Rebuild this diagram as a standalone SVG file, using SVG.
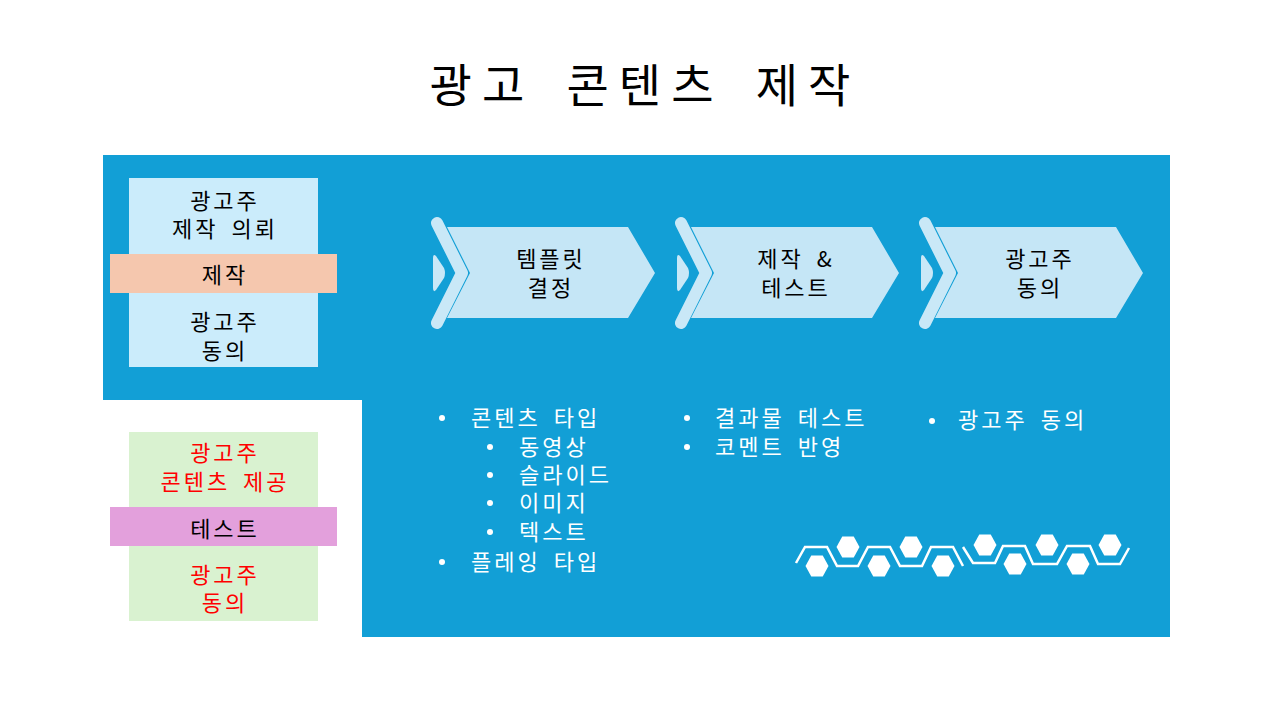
<svg xmlns="http://www.w3.org/2000/svg" xmlns:xlink="http://www.w3.org/1999/xlink" width="1280" height="720" viewBox="0 0 1280 720">
<style>
  text { font-family: "Noto Sans CJK KR", "Noto Sans", sans-serif; }
  .t { font-size: 22px; letter-spacing: 3px; word-spacing: 5px; }
  .c { text-anchor: middle; }
  .k { fill: #000000; }
  .r { fill: #ff0000; }
  .w { fill: #ffffff; }
  .body { fill: #c5e6f6; }
  .strk { fill: none; stroke: #c9e8f7; stroke-width: 12; stroke-linecap: round; stroke-linejoin: round; }
  .hexline { fill: none; stroke: #ffffff; stroke-width: 2.5; }
</style>
<defs>
  <g id="chev">
    <polygon class="body" points="447,227 628,227 655,273 628,318 447,318 470,273"/>
    <polyline class="strk" points="437,223 462,273 437,323"/>
    <path d="M433,258 Q433,253 436,256 L444,268 Q446,273 444,278 L436,290 Q433,293 433,288 Z" fill="#c9e8f7"/>
  </g>
  <polygon id="hex" points="-11.5,0 -5.75,-10.5 5.75,-10.5 11.5,0 5.75,10.5 -5.75,10.5" fill="#ffffff"/>
</defs>
<rect width="1280" height="720" fill="#ffffff"/>

<text x="645" y="102" style="font-size:46px; letter-spacing:10px; word-spacing:12px;" class="c k">광고 콘텐츠 제작</text>

<polygon points="103,155 1170,155 1170,637 362,637 362,400 103,400" fill="#129fd6"/>

<g id="node-request">
  <rect x="129" y="178" width="189" height="189" fill="#cbecfb"/>
  <rect x="110" y="254" width="227" height="39" fill="#f5c7ae"/>
  <text class="t c k" x="225" y="209">광고주</text>
  <text class="t c k" x="225" y="237">제작 의뢰</text>
  <text class="t c k" x="225" y="283">제작</text>
  <text class="t c k" x="225" y="330">광고주</text>
  <text class="t c k" x="225" y="359">동의</text>
</g>

<g id="node-test">
  <rect x="129" y="432" width="189" height="189" fill="#d9f2d0"/>
  <rect x="110" y="507" width="227" height="39" fill="#e3a0dc"/>
  <text class="t c r" x="225" y="461">광고주</text>
  <text class="t c r" x="225" y="490">콘텐츠 제공</text>
  <text class="t c k" x="225" y="537">테스트</text>
  <text class="t c r" x="225" y="583">광고주</text>
  <text class="t c r" x="225" y="611">동의</text>
</g>

<g id="node-template">
  <use xlink:href="#chev" href="#chev"/>
  <text class="t c k" x="551" y="267">템플릿</text>
  <text class="t c k" x="551" y="296">결정</text>
</g>
<g id="node-production">
  <use xlink:href="#chev" href="#chev" transform="translate(244,0)"/>
  <text class="t c k" x="796" y="267">제작 &amp;</text>
  <text class="t c k" x="796" y="296">테스트</text>
</g>
<g id="node-approval">
  <use xlink:href="#chev" href="#chev" transform="translate(488,0)"/>
  <text class="t c k" x="1040" y="267">광고주</text>
  <text class="t c k" x="1040" y="296">동의</text>
</g>

<g id="connectors"></g>

<g id="list-template">
  <circle cx="442" cy="418" r="3" fill="#ffffff"/>
  <text class="t w" x="471" y="426">콘텐츠 타입</text>
  <circle cx="490" cy="447" r="3" fill="#ffffff"/>
  <text class="t w" x="519" y="455">동영상</text>
  <circle cx="490" cy="475" r="3" fill="#ffffff"/>
  <text class="t w" x="519" y="483">슬라이드</text>
  <circle cx="490" cy="503" r="3" fill="#ffffff"/>
  <text class="t w" x="519" y="511">이미지</text>
  <circle cx="490" cy="532" r="3" fill="#ffffff"/>
  <text class="t w" x="519" y="540">텍스트</text>
  <circle cx="442" cy="562" r="3" fill="#ffffff"/>
  <text class="t w" x="471" y="570">플레잉 타입</text>
</g>
<g id="list-production">
  <circle cx="687" cy="418" r="3" fill="#ffffff"/>
  <text class="t w" x="715" y="426">결과물 테스트</text>
  <circle cx="687" cy="447" r="3" fill="#ffffff"/>
  <text class="t w" x="715" y="455">코멘트 반영</text>
</g>
<g id="list-approval">
  <circle cx="932" cy="421" r="3" fill="#ffffff"/>
  <text class="t w" x="958" y="428">광고주 동의</text>
</g>

<g id="decoration">
  <polyline class="hexline" points="796,563 805,547 827,547 837,566 858,566 868,547 890,547 900,566 922,566 931,547 953,547 963,566"/>
  <polyline class="hexline" points="963,547 973,563 995,563 1003,546 1025,546 1033,564 1057,564 1067,546 1090,546 1098,564 1120,564 1129,548"/>
  <use xlink:href="#hex" href="#hex" x="817" y="566"/>
  <use xlink:href="#hex" href="#hex" x="848" y="547"/>
  <use xlink:href="#hex" href="#hex" x="879" y="566"/>
  <use xlink:href="#hex" href="#hex" x="911" y="547"/>
  <use xlink:href="#hex" href="#hex" x="943" y="566"/>
  <use xlink:href="#hex" href="#hex" x="985" y="545"/>
  <use xlink:href="#hex" href="#hex" x="1015" y="564"/>
  <use xlink:href="#hex" href="#hex" x="1047" y="545"/>
  <use xlink:href="#hex" href="#hex" x="1078" y="564"/>
  <use xlink:href="#hex" href="#hex" x="1110" y="545"/>
</g>
</svg>
